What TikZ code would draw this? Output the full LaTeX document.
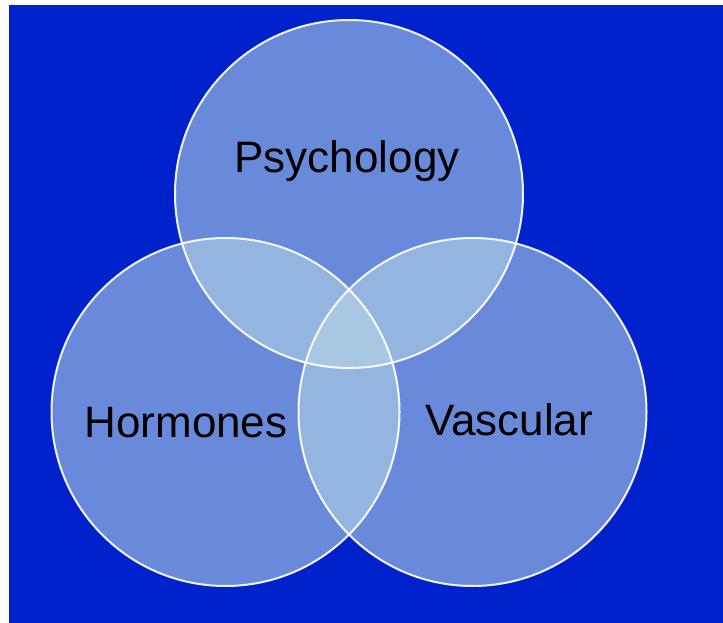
\documentclass[tikz,border=0pt]{standalone}
\usepackage{fontspec}
\setmainfont{Liberation Sans}
\definecolor{bgblue}{RGB}{0,34,204}
\definecolor{circfill}{RGB}{181,212,230}
\tikzset{
  venn/.style={circle, minimum size=348pt, inner sep=0pt, fill=circfill, fill opacity=0.585},
  vennline/.style={draw=white, line width=2pt, draw opacity=0.92},
  lbl/.style={anchor=base, text=black, font=\fontsize{44}{50}\selectfont, inner sep=0pt}
}
\begin{document}
\begin{tikzpicture}[x=1pt,y=-1pt]
\useasboundingbox (0,0) rectangle (723,623);
\fill[bgblue] (9,5) rectangle (723,623);
\node[venn] (psy) at (349,194) {};
\node[venn] (hor) at (225.5,412) {};
\node[venn] (vas) at (472.5,412) {};
\draw[vennline] (psy.center) circle (174pt);
\draw[vennline] (hor.center) circle (174pt);
\draw[vennline] (vas.center) circle (174pt);
\node[lbl] (tpsy) at (347,172) {Psychology};
\node[lbl] (thor) at (186,437) {Hormones};
\node[lbl] (tvas) at (509,435) {Vascular};
\end{tikzpicture}
\end{document}
